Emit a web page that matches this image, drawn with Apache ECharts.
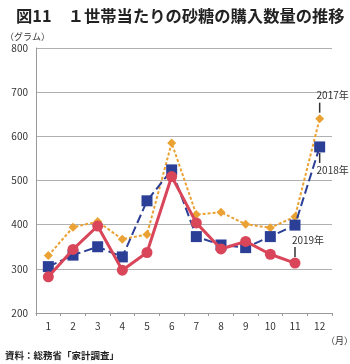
<!DOCTYPE html>
<html><head><meta charset="utf-8">
<script src="https://cdn.jsdelivr.net/npm/echarts@6/dist/echarts.min.js"></script>
<style>html,body{margin:0;padding:0;background:#fff}#c{width:350px;height:364px}</style>
</head><body><div id="c"></div>
<script>
const months = ['1','2','3','4','5','6','7','8','9','10','11','12'];
const y2017 = [330, 394, 407, 367, 378, 585, 423, 428, 401, 393, 418, 640];
const y2018 = [305, 331, 350, 327, 454, 524, 373, 354, 348, 373, 399, 576];
const y2019 = [282, 344, 397, 297, 337, 509, 404, 345, 362, 333, 313];
const yTicks = [200, 300, 400, 500, 600, 700, 800];
const seriesNames = ['2017年', '2018年', '2019年'];

const FONT = '"Noto Sans CJK JP", "Noto Sans", sans-serif';
const chart = echarts.init(document.getElementById('c'));

function tag(name, monthIdx, value, offY, above) {
  return {
    coord: [monthIdx, value],
    symbol: 'rect',
    symbolSize: [1.5, 10],
    symbolOffset: [0, offY],
    itemStyle: { color: '#333' },
    label: {
      show: true,
      formatter: name,
      position: above ? 'top' : 'bottom',
      distance: 2,
      offset: [13, 0],
      color: '#333',
      fontSize: 10,
      fontFamily: FONT
    }
  };
}

chart.setOption({
  animation: false,
  textStyle: { fontFamily: FONT },
  title: [
    { text: '図11　１世帯当たりの砂糖の購入数量の推移', left: 11, top: 3,
      textStyle: { fontSize: 16.3, fontWeight: 'bold', color: '#222', fontFamily: FONT } },
    { text: '（グラム）', left: 0, top: 27,
      textStyle: { fontSize: 9, fontWeight: 'normal', color: '#333', fontFamily: FONT } },
    { text: '（月）', left: 321, top: 331,
      textStyle: { fontSize: 9, fontWeight: 'normal', color: '#333', fontFamily: FONT } },
    { text: '資料：総務省「家計調査」', left: 0, top: 346,
      textStyle: { fontSize: 9.5, fontWeight: 'bold', color: '#222', fontFamily: FONT } }
  ],
  grid: { left: 36, right: 18, top: 48, bottom: 51 },
  xAxis: {
    type: 'category',
    data: months,
    boundaryGap: true,
    axisLine: { lineStyle: { color: '#999', width: 1 } },
    axisTick: { show: true, length: 3, lineStyle: { color: '#999' } },
    axisLabel: { color: '#333', fontSize: 10, margin: 8, fontFamily: FONT }
  },
  yAxis: {
    type: 'value',
    min: yTicks[0], max: yTicks[yTicks.length - 1], interval: 100,
    axisLine: { show: true, lineStyle: { color: '#999', width: 1 } },
    axisTick: { show: false },
    splitLine: { lineStyle: { color: '#b0b0b0', width: 1 } },
    axisLabel: { color: '#333', fontSize: 10, margin: 8, fontFamily: FONT }
  },
  series: [
    {
      name: seriesNames[0], type: 'line', data: y2017,
      symbol: 'diamond', symbolSize: 9,
      lineStyle: { color: '#eaa234', width: 2, type: [3, 2] },
      itemStyle: { color: '#eaa234' },
      markPoint: { data: [tag(seriesNames[0], 11, y2017[11], -11, true)] },
      z: 2
    },
    {
      name: seriesNames[1], type: 'line', data: y2018,
      symbol: 'rect', symbolSize: 11,
      lineStyle: { color: '#2b3f96', width: 2, type: [9, 4] },
      itemStyle: { color: '#2b3f96' },
      markPoint: { data: [tag(seriesNames[1], 11, y2018[11], 11, false)] },
      z: 3
    },
    {
      name: seriesNames[2], type: 'line', data: y2019,
      symbol: 'circle', symbolSize: 11,
      lineStyle: { color: '#d9465a', width: 3 },
      itemStyle: { color: '#d9465a' },
      markPoint: { data: [tag(seriesNames[2], 10, y2019[10], -11, true)] },
      z: 4
    }
  ]
});
</script></body></html>
